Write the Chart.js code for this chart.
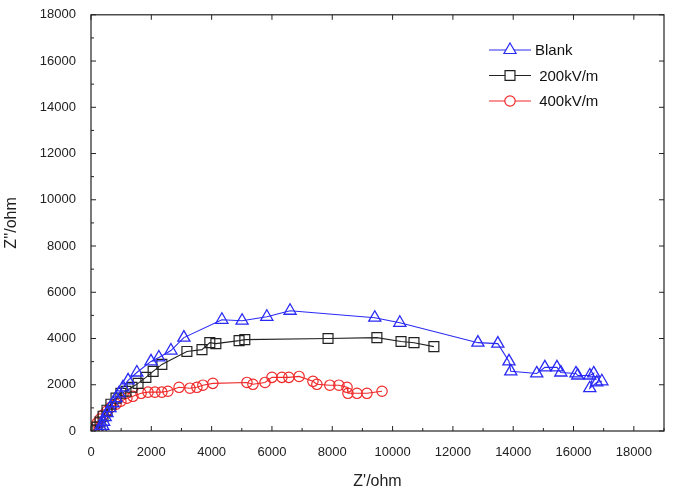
<!DOCTYPE html>
<html>
<head>
<meta charset="utf-8">
<script src="https://cdn.jsdelivr.net/npm/chart.js@4/dist/chart.umd.min.js"></script>
<style>
  html,body{margin:0;padding:0;background:#fff;}
  #wrap{width:674px;height:495px;position:relative;}
</style>
</head>
<body>
<div id="wrap"><canvas id="nyquist"></canvas></div>
<script>
/* ── Nyquist data (Z' , Z'' in ohm) ── */
const BLANK_X = [250,340,390,420,470,530,630,730,830,930,1060,1230,1520,1990,2250,2650,3080,4340,5010,5830,6600,9410,10240,12830,13490,13860,13920,14780,15050,15450,15580,16080,16140,16540,16670,16540,16770,16940];
const BLANK_Y = [40,100,220,400,600,770,990,1200,1420,1630,1890,2190,2530,3010,3180,3480,4040,4810,4770,4940,5200,4900,4680,3820,3780,3010,2580,2490,2750,2750,2530,2490,2400,2400,2490,1850,2100,2150];

const KV200_X = [100,200,300,400,530,660,830,990,1160,1360,1560,1820,2060,2350,3180,3680,3940,4140,4910,5100,7860,9480,10280,10710,11370];
const KV200_Y = [40,170,390,640,900,1160,1420,1630,1720,1890,2060,2320,2580,2880,3440,3520,3820,3780,3910,3950,4000,4040,3870,3820,3650];

const KV400_X = [70,130,200,300,400,530,660,830,990,1190,1390,1660,1890,2120,2350,2550,2920,3280,3510,3710,4040,5170,5370,5770,6000,6330,6560,6900,7360,7490,7920,8220,8490,8520,8820,9150,9650];
const KV400_Y = [40,170,340,520,690,860,1030,1160,1290,1420,1500,1630,1680,1680,1680,1720,1890,1850,1890,1980,2060,2100,2020,2100,2320,2320,2320,2360,2150,2020,1980,1980,1890,1630,1630,1630,1720];

const SERIES_NAMES = ['Blank', ' 200kV/m', ' 400kV/m'];
const X_TICKS = [0,2000,4000,6000,8000,10000,12000,14000,16000,18000];
const Y_TICKS = [0,2000,4000,6000,8000,10000,12000,14000,16000,18000];

const pts = (xs, ys) => xs.map((x,i)=>({x, y:ys[i]}));
const FONT = 'Liberation Sans, Arial, sans-serif';

/* ── frame, inward ticks and line+marker legend ── */
const framePlugin = {
  id:'frame',
  afterDraw(chart) {
    const {ctx, chartArea:a, scales:{x, y}} = chart;
    ctx.save();
    ctx.strokeStyle = '#222';
    ctx.lineWidth = 1.2;
    ctx.strokeRect(a.left, a.top, a.right-a.left, a.bottom-a.top);
    ctx.lineWidth = 1;
    ctx.beginPath();
    for (let v=0; v<=19000; v+=1000) {
      const px = x.getPixelForValue(v), len = v%2000===0 ? 5 : 3;
      ctx.moveTo(px, a.bottom); ctx.lineTo(px, a.bottom-len);
      if (v%2000===0) { ctx.moveTo(px, a.top); ctx.lineTo(px, a.top+len); }
    }
    for (let v=0; v<=18000; v+=1000) {
      const py = y.getPixelForValue(v), len = v%2000===0 ? 5 : 3;
      ctx.moveTo(a.left, py); ctx.lineTo(a.left+len, py);
      if (v%2000===0) { ctx.moveTo(a.right, py); ctx.lineTo(a.right-len, py); }
    }
    ctx.stroke();

    // legend
    const lx = 489, ly = 50, gap = 25.5;
    chart.data.datasets.forEach((ds, i) => {
      const cy = ly + i*gap;
      ctx.strokeStyle = ds.borderColor;
      ctx.lineWidth = 1;
      ctx.beginPath(); ctx.moveTo(lx, cy); ctx.lineTo(lx+42, cy); ctx.stroke();
      ctx.fillStyle = '#fff';
      ctx.lineWidth = 1.2;
      Chart.helpers.drawPoint(ctx, {pointStyle: ds.pointStyle, radius: ds.pointRadius, borderWidth: 1.2}, lx+21, cy);
      ctx.fillStyle = '#111';
      ctx.font = '15px ' + FONT;
      ctx.textBaseline = 'middle';
      ctx.fillText(ds.label, lx+46, cy+1);
    });
    ctx.restore();
  }
};

new Chart(document.getElementById('nyquist').getContext('2d'), {
  type:'line',
  data:{
    datasets:[
      { label:SERIES_NAMES[0], data:pts(BLANK_X, BLANK_Y), borderColor:'#2a2af5', pointBorderColor:'#2a2af5', pointBackgroundColor:'transparent', pointStyle:'triangle', pointRadius:7, pointBorderWidth:1.3, borderWidth:1.1, tension:0 },
      { label:SERIES_NAMES[1], data:pts(KV200_X, KV200_Y), borderColor:'#222', pointBorderColor:'#222', pointBackgroundColor:'transparent', pointStyle:'rect', pointRadius:7, pointBorderWidth:1.2, borderWidth:1.1, tension:0 },
      { label:SERIES_NAMES[2], data:pts(KV400_X, KV400_Y), borderColor:'#f02828', pointBorderColor:'#f02828', pointBackgroundColor:'transparent', pointStyle:'circle', pointRadius:5.2, pointBorderWidth:1.2, borderWidth:1.1, tension:0 },
    ]
  },
  options:{
    responsive:true, maintainAspectRatio:false, animation:false,
    layout:{ padding:{ top:4, right:10, left:0, bottom:0 } },
    plugins:{ legend:{display:false}, tooltip:{enabled:false} },
    scales:{
      x:{ type:'linear', min:0, max:19000,
          afterBuildTicks: s => { s.ticks = X_TICKS.map(v=>({value:v})); },
          grid:{display:false}, border:{display:false},
          ticks:{ color:'#222', font:{family:FONT, size:13}, padding:6, maxRotation:0, callback: v => String(v) },
          title:{ display:true, text:"Z'/ohm", color:'#222', font:{family:FONT, size:16}, padding:{top:8} },
          afterFit: s => { s.height = 64; } },
      y:{ type:'linear', min:0, max:18000,
          afterBuildTicks: s => { s.ticks = Y_TICKS.map(v=>({value:v})); },
          grid:{display:false}, border:{display:false},
          ticks:{ color:'#222', font:{family:FONT, size:13}, padding:7, callback: v => String(v) },
          title:{ display:true, text:"Z''/ohm", color:'#222', font:{family:FONT, size:16}, padding:{top:2, bottom:8} },
          afterFit: s => { s.width = 91; } }
    }
  },
  plugins:[framePlugin]
});
</script>
</body>
</html>
